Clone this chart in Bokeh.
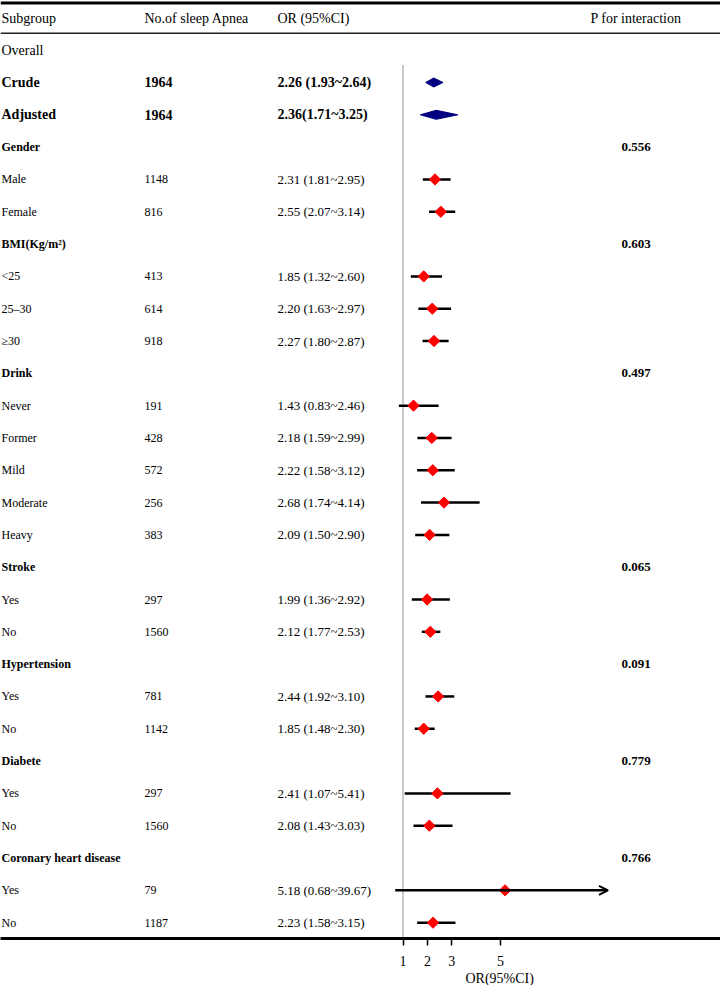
import math
from bokeh.plotting import figure
from bokeh.models import Range1d, FixedTicker, Span, Title, Arrow, OpenHead, ColumnDataSource
from bokeh.core.properties import value
from bokeh.embed import file_html
from bokeh.resources import INLINE

# ---------------- data ----------------
subgroups = ["Overall", "Crude", "Adjusted",
             "Gender", "Male", "Female",
             "BMI(Kg/m\u00b2)", "<25", "25\u201330", "\u226530",
             "Drink", "Never", "Former", "Mild", "Moderate", "Heavy",
             "Stroke", "Yes", "No",
             "Hypertension", "Yes", "No",
             "Diabete", "Yes", "No",
             "Coronary heart disease", "Yes", "No"]
kinds = ["overall", "summary", "summary",
         "group", "item", "item",
         "group", "item", "item", "item",
         "group", "item", "item", "item", "item", "item",
         "group", "item", "item",
         "group", "item", "item",
         "group", "item", "item",
         "group", "item", "item"]
n_apnea = ["", "1964", "1964",
           "", "1148", "816",
           "", "413", "614", "918",
           "", "191", "428", "572", "256", "383",
           "", "297", "1560",
           "", "781", "1142",
           "", "297", "1560",
           "", "79", "1187"]
N = None
odds = [N, 2.26, 2.36, N, 2.31, 2.55, N, 1.85, 2.20, 2.27, N, 1.43, 2.18, 2.22, 2.68, 2.09,
        N, 1.99, 2.12, N, 2.44, 1.85, N, 2.41, 2.08, N, 5.18, 2.23]
lower = [N, 1.93, 1.71, N, 1.81, 2.07, N, 1.32, 1.63, 1.80, N, 0.83, 1.59, 1.58, 1.74, 1.50,
         N, 1.36, 1.77, N, 1.92, 1.48, N, 1.07, 1.43, N, 0.68, 1.58]
upper = [N, 2.64, 3.25, N, 2.95, 3.14, N, 2.60, 2.97, 2.87, N, 2.46, 2.99, 3.12, 4.14, 2.90,
         N, 2.92, 2.53, N, 3.10, 2.30, N, 5.41, 3.03, N, 39.67, 3.15]
p_interaction = ["", "", "", "0.556", "", "", "0.603", "", "", "", "0.497", "", "", "", "", "",
                 "0.065", "", "", "0.091", "", "", "0.779", "", "", "0.766", "", ""]
headers = ["Subgroup", "No.of sleep Apnea", "OR (95%CI)", "P for interaction"]
x_ticks = [1, 2, 3, 5]
axis_title = "OR(95%CI)"
null_or = 1

# ---------------- layout constants ----------------
W, H = 720, 985
FRAME_H = 944
PX_UNIT = 24.4          # pixels per OR unit
ORIGIN_PX = 402.5       # canvas x of OR = 1
X_CLIP = 9.4            # CI beyond this is drawn as an arrow
ROW0, ROW_H = 50.0, 32.52
x_start = 1 - ORIGIN_PX / PX_UNIT
x_end = x_start + W / PX_UNIT
y_top = -ROW0 / ROW_H
y_bot = (FRAME_H - ROW0) / ROW_H


def px_x(c):
    return x_start + c / PX_UNIT


def px_y(c):
    return (c - ROW0) / ROW_H


FONT = value("Liberation Serif")

p = figure(width=W, height=H, x_range=Range1d(x_start, x_end), y_range=Range1d(y_bot, y_top),
           output_backend="svg", toolbar_location=None, y_axis_location=None,
           min_border_left=0, min_border_right=0, min_border_top=0,
           min_border_bottom=H - FRAME_H)
p.xgrid.visible = False
p.ygrid.visible = False
p.outline_line_color = None
p.background_fill_color = "white"

ax = p.xaxis[0]
ax.ticker = FixedTicker(ticks=x_ticks, minor_ticks=[])
ax.axis_line_width = 3
ax.axis_line_color = "black"
ax.major_tick_in = 0
ax.major_tick_out = 7
ax.major_tick_line_width = 1.5
ax.major_tick_line_color = "black"
ax.minor_tick_out = 0
ax.minor_tick_in = 0
ax.major_label_text_font = "Liberation Serif"
ax.major_label_text_font_size = "14px"
ax.major_label_text_color = "black"
ax.major_label_standoff = 10

# axis title, placed under the "5" tick
p.add_layout(Title(text=axis_title, align="left", offset=465, text_font="Liberation Serif",
                   text_font_size="14px", text_font_style="normal", text_color="black",
                   standoff=0), "below")

# horizontal rules
p.add_layout(Span(location=px_y(2.5), dimension="width", line_width=3, line_color="black"))
p.add_layout(Span(location=px_y(33), dimension="width", line_width=1.5, line_color="#222222"))

# reference line at OR = 1
p.segment(x0=[null_or], x1=[null_or], y0=[px_y(65)], y1=[y_bot], line_color="#b0b0b0", line_width=1.3)


def add_text(xs, ys, texts, size, bold=False):
    src = ColumnDataSource(dict(x=xs, y=ys, text=texts))
    p.text(x="x", y="y", text="text", source=src, text_font=FONT, text_font_size=value(size),
           text_font_style="bold" if bold else "normal", text_color="black",
           text_align="left", text_baseline="middle")


# headers
hx = [px_x(1), px_x(144), px_x(277), px_x(590)]
add_text(hx, [px_y(18)] * 4, headers, "14px")

rows = list(range(len(subgroups)))
col_lab, col_n, col_or, col_p = px_x(1), px_x(144), px_x(277), px_x(621)

or_text = []
for s, m, l, u in zip(subgroups, odds, lower, upper):
    if m is None:
        or_text.append("")
    else:
        sep = "" if s == "Adjusted" else " "
        or_text.append(f"{m:.2f}{sep}({l:.2f}~{u:.2f})")

styles = {"overall": ("14px", False, "14px", "14px"),
          "summary": ("14px", True, "14px", "14px"),
          "group": ("12px", True, "12px", "13px"),
          "item": ("12px", False, "12px", "13px")}
for k, (lab_size, bold, n_size, or_size) in styles.items():
    idx = [i for i in rows if kinds[i] == k]
    add_text([col_lab] * len(idx), idx, [subgroups[i] for i in idx], lab_size, bold)
    idx_n = [i for i in idx if n_apnea[i]]
    if idx_n:
        add_text([col_n] * len(idx_n), idx_n, [n_apnea[i] for i in idx_n], n_size, bold)
        add_text([col_or] * len(idx_n), idx_n, [or_text[i] for i in idx_n], or_size, bold)

idx_p = [i for i in rows if p_interaction[i]]
add_text([col_p] * len(idx_p), idx_p, [p_interaction[i] for i in idx_p], "13px", True)

# summary diamonds (Crude / Adjusted)
DH = 0.14
sx, sy = [], []
for i in rows:
    if kinds[i] == "summary":
        sx.append([lower[i], odds[i], upper[i], odds[i]])
        sy.append([i, i - DH, i, i + DH])
p.patches(xs=sx, ys=sy, fill_color="#000080", line_color="#000080", line_width=1)

# subgroup estimates
items = [i for i in rows if kinds[i] == "item"]
seg = [i for i in items if upper[i] <= X_CLIP]
arr = [i for i in items if upper[i] > X_CLIP]
p.segment(x0=[lower[i] for i in seg], x1=[upper[i] for i in seg], y0=seg, y1=seg,
          line_color="black", line_width=2.5)
if arr:
    asrc = ColumnDataSource(dict(x0=[lower[i] for i in arr], x1=[X_CLIP] * len(arr),
                                 y0=arr, y1=arr))
    p.add_layout(Arrow(end=OpenHead(size=9, line_width=2, line_color="black"),
                       x_start="x0", y_start="y0", x_end="x1", y_end="y1", source=asrc,
                       line_width=2.5, line_color="black"))
p.scatter(x=[odds[i] for i in items], y=items, marker="square", angle=math.pi / 4,
          size=8, fill_color="#ff0000", line_color="#ff0000")

open("out.html", "w").write(file_html(p, INLINE))
